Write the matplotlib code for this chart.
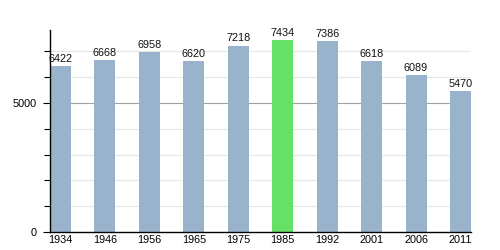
import matplotlib
matplotlib.use("Agg")
import matplotlib.pyplot as plt
from matplotlib.ticker import MultipleLocator, FixedLocator

years = ["1934", "1946", "1956", "1965", "1975", "1985", "1992", "2001", "2006", "2011"]
population = [6422, 6668, 6958, 6620, 7218, 7434, 7386, 6618, 6089, 5470]
highlight_year = "1985"

blue = "#9ab3cd"
green = "#66e066"

plt.rcParams['font.family'] = ['Liberation Sans', 'DejaVu Sans']

fig = plt.figure(figsize=(5, 2.5), dpi=100)
ax = fig.add_axes([0.1, 0.072, 0.842, 0.808])

width = 0.473
x = list(range(len(years)))
colors = [green if y == highlight_year else blue for y in years]
bars = ax.bar(x, population, width=width, color=colors, zorder=2)

for xi, v in zip(x, population):
    ax.text(xi, v + 90, str(v), ha='center', va='bottom', fontsize=7.8, color='#111111', zorder=3)

ax.set_xlim(-width / 2, len(years) - 1 + width / 2)
ax.set_ylim(0, 7830)
ax.set_xticks(x)
ax.set_xticklabels(years, fontsize=7.8)
ax.yaxis.set_major_locator(FixedLocator([0, 5000]))
ax.yaxis.set_minor_locator(MultipleLocator(1000))
ax.tick_params(axis='y', which='major', length=5, width=0.8, labelsize=7.8, pad=4.5)
ax.tick_params(axis='y', which='minor', length=4, width=0.8)
ax.tick_params(axis='x', length=0, pad=2)

for k in range(1, 8):
    if k == 5:
        ax.axhline(k * 1000, color='#a0a0a0', lw=0.8, zorder=1)
    else:
        ax.axhline(k * 1000, color='#e6e6e6', lw=0.8, zorder=1)

for s in ['top', 'right']:
    ax.spines[s].set_visible(False)
ax.spines['left'].set_linewidth(1.0)
ax.spines['bottom'].set_linewidth(1.0)

fig.savefig("out.png", dpi=100)
